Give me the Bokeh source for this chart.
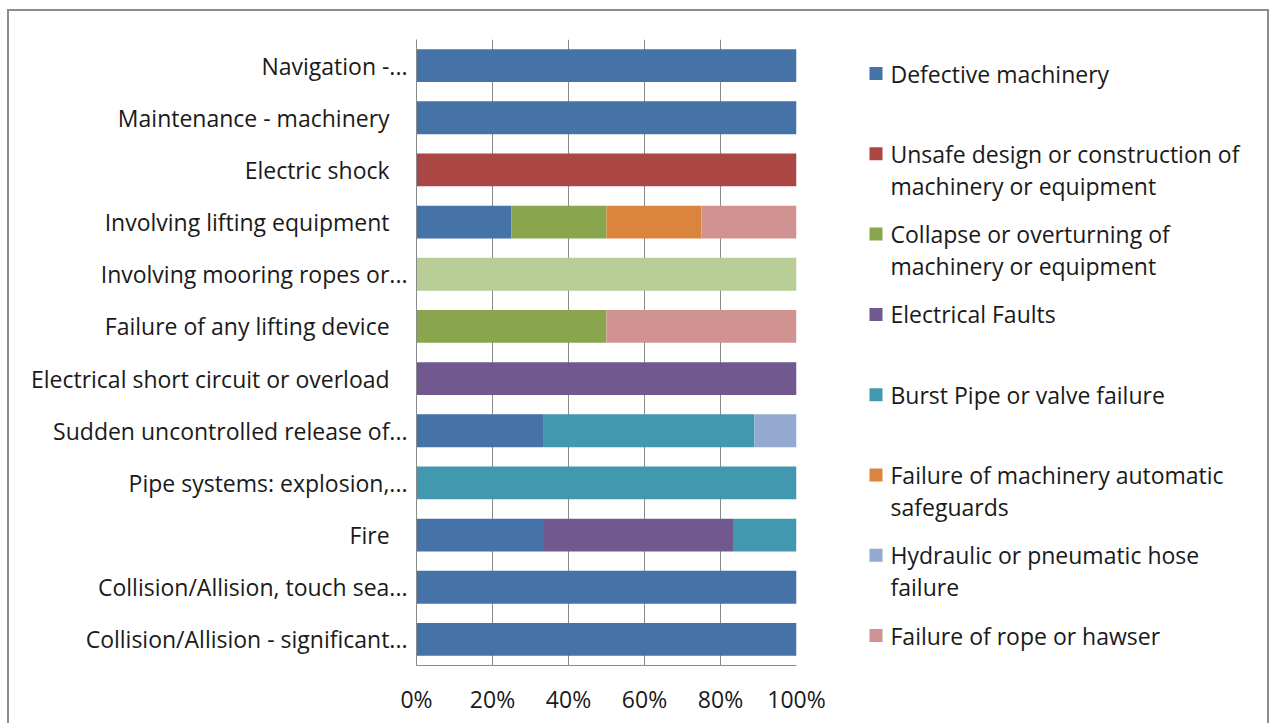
from bokeh.plotting import figure
from bokeh.layouts import row
from bokeh.models import ColumnDataSource, FactorRange, FixedTicker, PrintfTickFormatter, Range1d
from bokeh.core.properties import value
from bokeh.embed import file_html
from bokeh.resources import INLINE

PAD = "\u00a0\u00a0\u00a0"

# ---------------- data ----------------
categories = [
    "Navigation -...",
    "Maintenance - machinery" + PAD,
    "Electric shock" + PAD,
    "Involving lifting equipment" + PAD,
    "Involving mooring ropes or...",
    "Failure of any lifting device" + PAD,
    "Electrical short circuit or overload" + PAD,
    "Sudden uncontrolled release of...",
    "Pipe systems: explosion,...",
    "Fire" + PAD,
    "Collision/Allision, touch sea...",
    "Collision/Allision - significant...",
]

defective_machinery = [100, 100, 0, 25, 0, 0, 0, 33.3, 0, 33.3, 100, 100]
unsafe_design       = [0, 0, 100, 0, 0, 0, 0, 0, 0, 0, 0, 0]
collapse            = [0, 0, 0, 25, 0, 50, 0, 0, 0, 0, 0, 0]
electrical_faults   = [0, 0, 0, 0, 0, 0, 100, 0, 0, 50, 0, 0]
burst_pipe          = [0, 0, 0, 0, 0, 0, 0, 55.6, 100, 16.7, 0, 0]
auto_safeguards     = [0, 0, 0, 25, 0, 0, 0, 0, 0, 0, 0, 0]
hydraulic_hose      = [0, 0, 0, 0, 0, 0, 0, 11.1, 0, 0, 0, 0]
rope_hawser         = [0, 0, 0, 25, 0, 50, 0, 0, 0, 0, 0, 0]
mooring_other       = [0, 0, 0, 0, 100, 0, 0, 0, 0, 0, 0, 0]

series_keys = ["defective", "unsafe", "collapse", "electrical", "burst",
               "safeguards", "hydraulic", "rope", "mooring"]
series_values = [defective_machinery, unsafe_design, collapse, electrical_faults,
                 burst_pipe, auto_safeguards, hydraulic_hose, rope_hawser, mooring_other]
series_colors = ["#4572A7", "#AA4643", "#89A54E", "#71588F", "#4198AF",
                 "#DB843D", "#93A9CF", "#D19392", "#B9CD96"]

legend_labels = [
    ["Defective machinery"],
    ["Unsafe design or construction of", "machinery or equipment"],
    ["Collapse or overturning of", "machinery or equipment"],
    ["Electrical Faults"],
    ["Burst Pipe or valve failure"],
    ["Failure of machinery automatic", "safeguards"],
    ["Hydraulic or pneumatic hose", "failure"],
    ["Failure of rope or hawser"],
]

x_ticks = [0, 20, 40, 60, 80, 100]

FONT = "Open Sans"
TEXT_COLOR = "#1a1a1a"
GRID_COLOR = "#8a8a8a"

# page geometry (content starts at x=9, y=11 inside the frame border)
LEFT, TOP = 9, 11
FRAME_W, FRAME_H = 380, 626
B_LEFT, B_RIGHT, B_TOP, B_BOTTOM = 407, 54, 28, 58
LEG_W = 417

# ---------------- main chart ----------------
data = {"cat": categories}
for k, v in zip(series_keys, series_values):
    data[k] = v
source = ColumnDataSource(data)

p = figure(
    y_range=FactorRange(*list(reversed(categories)), range_padding=0),
    x_range=Range1d(0, 100),
    frame_width=FRAME_W, frame_height=FRAME_H,
    min_border_left=B_LEFT, min_border_right=B_RIGHT,
    min_border_top=B_TOP, min_border_bottom=B_BOTTOM,
    output_backend="svg", toolbar_location=None,
)
p.hbar_stack(series_keys, y="cat", height=0.63, color=series_colors,
             line_color=None, source=source)

p.outline_line_color = None
p.background_fill_color = "white"
p.border_fill_color = "white"

p.xaxis.ticker = FixedTicker(ticks=x_ticks)
p.xaxis.formatter = PrintfTickFormatter(format="%d%%")
p.xaxis.major_tick_line_color = None
p.xaxis.minor_tick_line_color = None
p.xaxis.axis_line_color = GRID_COLOR
p.xaxis.major_label_text_font = FONT
p.xaxis.major_label_text_font_size = "23px"
p.xaxis.major_label_text_color = TEXT_COLOR
p.xaxis.major_label_standoff = 11

p.yaxis.major_tick_line_color = None
p.yaxis.minor_tick_line_color = None
p.yaxis.axis_line_color = GRID_COLOR
p.yaxis.major_label_text_font = FONT
p.yaxis.major_label_text_font_size = "23px"
p.yaxis.major_label_text_color = TEXT_COLOR
p.yaxis.major_label_standoff = 3

p.xgrid.ticker = FixedTicker(ticks=x_ticks)
p.xgrid.grid_line_color = GRID_COLOR
p.ygrid.grid_line_color = None

# ---------------- legend panel (ranges expressed in page pixels) ----------------
leg_x0 = LEFT + B_LEFT + FRAME_W + B_RIGHT
frame_top = TOP + B_TOP
leg = figure(
    frame_width=LEG_W, frame_height=FRAME_H,
    min_border_left=0, min_border_right=0,
    min_border_top=B_TOP, min_border_bottom=B_BOTTOM,
    x_range=Range1d(leg_x0, leg_x0 + LEG_W),
    y_range=Range1d(frame_top + FRAME_H, frame_top),
    output_backend="svg", toolbar_location=None,
)
leg.axis.visible = False
leg.grid.visible = False
leg.outline_line_color = None
leg.border_fill_color = "white"

first_y, step, line_h = 73, 80.3, 32
sq_x, sq_size, txt_x = 875.5, 13, 890
sq = {"x": [], "y": [], "c": []}
tx = {"x": [], "y": [], "t": []}
for i, lines in enumerate(legend_labels):
    y0 = first_y + i * step
    sq["x"].append(sq_x); sq["y"].append(y0); sq["c"].append(series_colors[i])
    for j, ln in enumerate(lines):
        tx["x"].append(txt_x); tx["y"].append(y0 + j * line_h); tx["t"].append(ln)
leg.rect(x="x", y="y", width=sq_size, height=sq_size, fill_color="c", line_color=None,
         source=ColumnDataSource(sq))
leg.text(x="x", y="y", text="t", text_font=value(FONT), text_font_size="23px",
         text_color=TEXT_COLOR, text_baseline="middle", text_align="left",
         source=ColumnDataSource(tx))

layout = row(p, leg)
layout.styles = {
    "margin-left": "7px",
    "margin-top": "9px",
    "border-top": "2px solid #8c8c8c",
    "border-left": "2px solid #8c8c8c",
    "border-right": "2px solid #8c8c8c",
}

open("out.html", "w").write(file_html(layout, INLINE))
